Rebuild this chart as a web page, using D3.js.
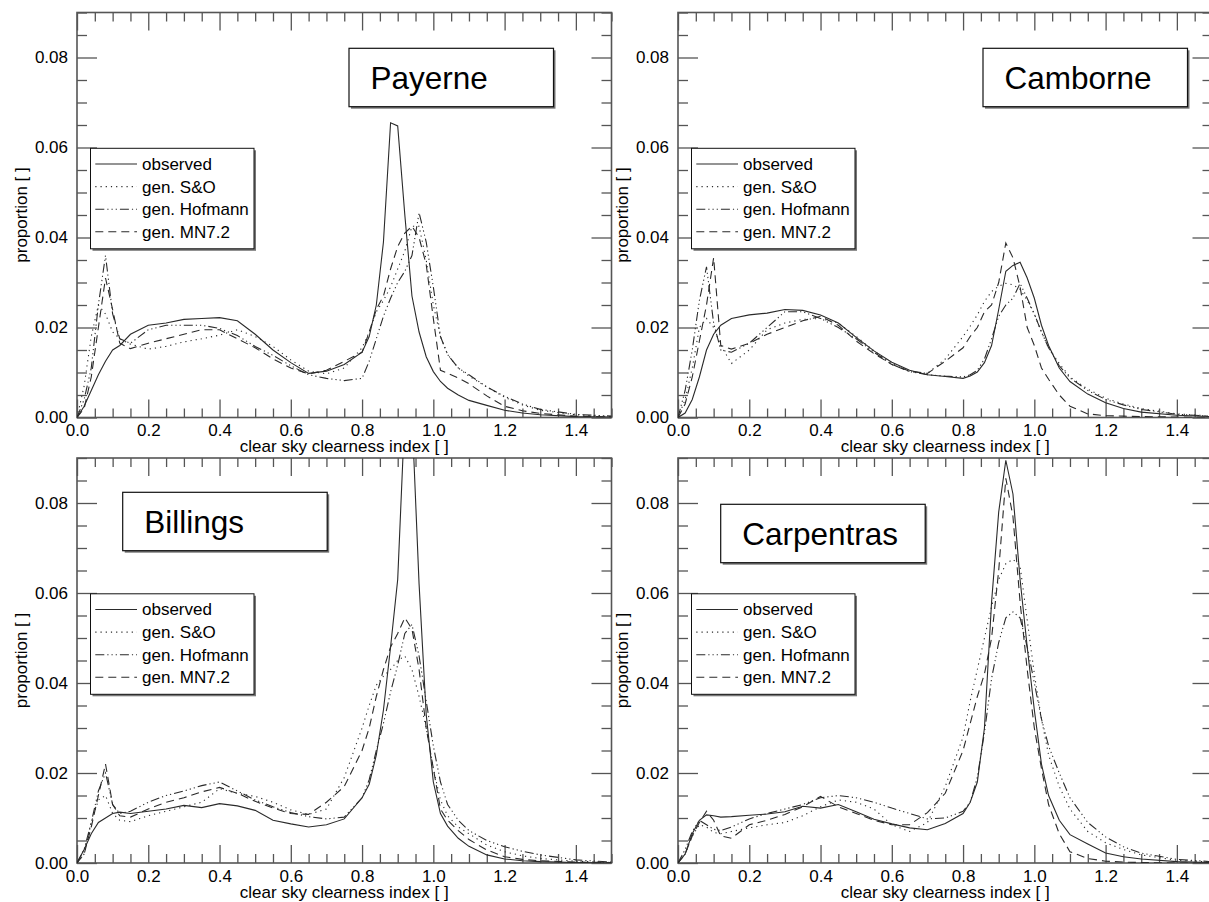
<!DOCTYPE html>
<html>
<head>
<meta charset="utf-8">
<script src="https://cdn.jsdelivr.net/npm/d3@7"></script>
<style>
body { margin: 0; background: #fff; }
text { font-family: "Liberation Sans", Arial, Helvetica, sans-serif; fill: #000; }
.frame { fill: none; stroke: #555; stroke-width: 1.6; }
.tick line { stroke: #555; stroke-width: 1.3; }
.domain { display: none; }
.curve { fill: none; stroke: #2a2a2a; stroke-width: 1.1; }
</style>
</head>
<body>
<script>
//hardcoded parameters
var svg_width = 1209;
var svg_height = 902;
var graph_width = 534.5;
var graph_height = 405;

//clearness index bins
var kt = [0, 0.02, 0.04, 0.06, 0.08, 0.1, 0.12, 0.15, 0.2, 0.25, 0.3, 0.35, 0.4, 0.45, 0.5, 0.55, 0.6, 0.65, 0.7, 0.75,
          0.8, 0.82, 0.84, 0.86, 0.88, 0.9, 0.92, 0.94, 0.96, 0.98, 1.0, 1.02, 1.04, 1.07, 1.1, 1.15, 1.2, 1.25, 1.3, 1.4, 1.5];
var x_ticks = [0, 0.2, 0.4, 0.6, 0.8, 1.0, 1.2, 1.4];
var y_ticks = [0, 0.02, 0.04, 0.06, 0.08];
var series_names = ['observed', 'gen. S&O', 'gen. Hofmann', 'gen. MN7.2'];

//Payerne
var payerne_obs = [0, .0025, .006, .0095, .0125, .015, .016, .0185, .0205, .021, .0218, .022, .0222, .0215, .0185, .015, .0122, .0098, .0103, .0118,
                   .0145, .018, .025, .039, .0655, .0648, .045, .027, .019, .0135, .0102, .008, .0065, .005, .0038, .0027, .0016, .001, .0006, .0002, .0001];
var payerne_so  = [0, .007, .018, .025, .023, .019, .0175, .0163, .0152, .0158, .0168, .0175, .0183, .0195, .018, .0158, .0128, .0103, .0097, .011,
                   .0155, .019, .0235, .026, .029, .033, .037, .0425, .0425, .035, .025, .018, .014, .011, .0092, .0068, .0045, .0028, .0016, .0006, .0002];
var payerne_hof = [0, .004, .011, .025, .036, .023, .0175, .0165, .0195, .0205, .0205, .0205, .0198, .0182, .0158, .0138, .0115, .0095, .0087, .0082,
                   .0087, .0125, .0175, .0225, .0265, .03, .0325, .036, .0455, .039, .029, .018, .014, .011, .0095, .0068, .0047, .003, .0018, .0007, .0003];
var payerne_mn  = [0, .002, .009, .02, .031, .024, .0165, .0153, .0165, .0175, .0185, .0195, .0195, .0175, .0155, .013, .011, .0097, .0105, .0125,
                   .0145, .019, .024, .027, .033, .038, .041, .0425, .04, .034, .022, .0105, .0098, .0088, .0075, .0048, .0025, .0015, .0009, .0003, .0001];

//Camborne
var camborne_obs = [0, .001, .004, .009, .015, .0185, .0205, .022, .0228, .0232, .024, .0238, .0228, .021, .0178, .0148, .0123, .0105, .0095, .0091,
                    .0087, .0092, .0101, .0122, .016, .024, .0325, .0338, .0345, .031, .0265, .0205, .016, .011, .008, .0052, .0033, .002, .0012, .0005, .0002];
var camborne_so  = [0, .004, .011, .02, .022, .02, .016, .012, .015, .0195, .021, .0218, .022, .021, .018, .0148, .012, .0102, .0098, .013,
                    .018, .0203, .0228, .0258, .028, .0292, .0298, .0295, .0285, .026, .023, .019, .0155, .012, .009, .0063, .0043, .003, .002, .0008, .0003];
var camborne_hof = [0, .006, .015, .026, .0335, .021, .015, .0145, .0165, .02, .0235, .0235, .022, .02, .0175, .0145, .0118, .0102, .0095, .0092,
                    .009, .0095, .0105, .013, .0175, .0225, .025, .0265, .0298, .0265, .023, .019, .0155, .0115, .0088, .006, .004, .0028, .0018, .0007, .0003];
var camborne_mn  = [0, .003, .009, .017, .025, .0355, .016, .0152, .0165, .0185, .02, .0215, .0225, .0205, .017, .0142, .0118, .0103, .0098, .0125,
                    .0155, .018, .02, .0235, .025, .03, .0388, .0355, .029, .02, .016, .011, .0085, .005, .0025, .0008, .0004, .0003, .0002, .0001, 0];

//Billings
var billings_obs = [0, .003, .0065, .009, .01, .011, .0113, .011, .0115, .012, .0128, .0123, .0132, .0127, .0117, .0095, .0087, .008, .0085, .0098,
                    .0145, .0175, .024, .034, .048, .063, .1, .1, .062, .033, .018, .011, .0082, .0055, .0037, .0018, .0009, .0005, .0003, .0001, 0];
var billings_so  = [0, .002, .009, .014, .015, .011, .0095, .0092, .0105, .0115, .0125, .0135, .0165, .0155, .0148, .0135, .0118, .0108, .012, .019,
                    .03, .035, .0395, .0415, .043, .045, .046, .043, .037, .03, .021, .014, .0105, .008, .0065, .004, .0025, .0016, .001, .0004, .0001];
var billings_hof = [0, .003, .009, .016, .02, .013, .011, .0115, .0135, .015, .016, .0172, .018, .016, .014, .0125, .0112, .0103, .0098, .0102,
                    .0145, .0185, .025, .031, .038, .044, .051, .053, .046, .036, .026, .018, .013, .0095, .0072, .005, .0036, .0026, .0018, .0007, .0002];
var billings_mn  = [0, .002, .008, .015, .022, .013, .0105, .0102, .012, .0135, .0145, .0158, .0168, .0155, .0137, .0122, .011, .0108, .0135, .017,
                    .025, .03, .037, .043, .048, .051, .0545, .052, .043, .03, .021, .012, .0095, .0072, .0052, .0029, .0014, .0008, .0005, .0002, .0001];

//Carpentras
var carpentras_obs = [0, .002, .0065, .0095, .0107, .0105, .0102, .0103, .0106, .0109, .0114, .0126, .0122, .013, .0114, .0097, .0087, .0078, .0074, .0088,
                      .011, .0135, .018, .03, .058, .078, .0895, .082, .063, .048, .034, .022, .015, .0095, .0063, .0042, .0022, .0014, .0009, .0003, .0001];
var carpentras_so  = [0, .002, .006, .0085, .008, .0068, .0065, .007, .0078, .0085, .009, .0105, .0125, .014, .0135, .012, .0085, .007, .009, .017,
                      .028, .036, .043, .05, .057, .063, .0665, .0675, .066, .054, .042, .032, .024, .017, .012, .007, .0045, .003, .0018, .0006, .0002];
var carpentras_hof = [0, .003, .007, .0095, .0085, .0075, .0072, .008, .0098, .011, .012, .013, .0145, .015, .0145, .0135, .0122, .011, .0098, .01,
                      .0115, .0135, .019, .029, .041, .049, .0545, .0558, .0545, .048, .04, .032, .026, .02, .0145, .009, .0058, .0036, .0022, .0008, .0003];
var carpentras_mn  = [0, .002, .006, .009, .0115, .0095, .006, .0055, .0085, .0095, .0108, .0125, .0148, .0125, .011, .0095, .0085, .0085, .0112, .0155,
                      .025, .031, .037, .042, .05, .065, .0855, .077, .058, .043, .03, .021, .013, .0065, .0025, .001, .0004, .0002, .0001, 0, 0];

//panel layout: origin of each graph and offset of its station box
var panels = [
    {name: 'Payerne',    x: 77,  y: 12.5, box: [272, 35.8],  series: [payerne_obs, payerne_so, payerne_hof, payerne_mn]},
    {name: 'Camborne',   x: 678, y: 12.5, box: [305, 35.8],  series: [camborne_obs, camborne_so, camborne_hof, camborne_mn]},
    {name: 'Billings',   x: 77,  y: 458,  box: [45.7, 34.3], series: [billings_obs, billings_so, billings_hof, billings_mn]},
    {name: 'Carpentras', x: 678, y: 458,  box: [42.7, 46.3], series: [carpentras_obs, carpentras_so, carpentras_hof, carpentras_mn]}
];
var dashes = ['none', '1.2,4', '9,3,1.2,3,1.2,3,1.2,3', '8,5'];

//svg
var svg = d3.select('body').append('svg')
    .attr('width', svg_width)
    .attr('height', svg_height);

//scales (shared)
var scale_x = d3.scaleLinear().domain([0, 1.5]).range([0, graph_width]);
var scale_y = d3.scaleLinear().domain([0, 0.09]).range([graph_height, 0]);
var x_minor = d3.range(0, 1.5001, 0.05).filter(function(v) { return Math.abs(v*5 - Math.round(v*5)) > 1e-6; });
var y_minor = d3.range(0, 0.0901, 0.005).filter(function(v) { return Math.abs(v*50 - Math.round(v*50)) > 1e-6; });

var line = d3.line()
    .x(function(d, i) { return scale_x(kt[i]); })
    .y(function(d) { return scale_y(d); });

panels.forEach(function(p, k) {
    var graph = svg.append('g').attr('transform', 'translate('+p.x+','+p.y+')');

    //clip
    graph.append('clipPath').attr('id', 'clip'+k)
        .append('rect').attr('width', graph_width).attr('height', graph_height);

    //axes, ticks pointing inward on all four sides
    function axis(gen, values, size, dx, dy, labels) {
        var g = graph.append('g')
            .attr('transform', 'translate('+dx+','+dy+')')
            .call(gen.tickValues(values).tickSize(-size).tickSizeOuter(0)
                .tickFormat(labels || ''));
        g.attr('font-size', 17).attr('font-family', null);
        return g;
    }
    axis(d3.axisBottom(scale_x).tickPadding(6.5), x_ticks, 18, 0, graph_height, d3.format('.1f'));
    axis(d3.axisBottom(scale_x), x_minor, 9, 0, graph_height);
    axis(d3.axisTop(scale_x), x_ticks, 18, 0, 0);
    axis(d3.axisTop(scale_x), x_minor, 9, 0, 0);
    axis(d3.axisLeft(scale_y).tickPadding(9), y_ticks, 20, 0, 0, d3.format('.2f'));
    axis(d3.axisLeft(scale_y), y_minor, 10, 0, 0);
    axis(d3.axisRight(scale_y), y_ticks, 20, graph_width, 0);
    axis(d3.axisRight(scale_y), y_minor, 10, graph_width, 0);

    graph.append('rect').classed('frame', true)
        .attr('width', graph_width).attr('height', graph_height);

    //axis titles
    graph.append('text')
        .attr('text-anchor', 'middle')
        .attr('font-size', 17)
        .attr('x', graph_width/2)
        .attr('y', graph_height + 34.5)
        .text('clear sky clearness index [ ]');
    graph.append('text')
        .attr('text-anchor', 'middle')
        .attr('font-size', 17)
        .attr('transform', 'translate(-50,'+(graph_height/2)+') rotate(-90)')
        .text('proportion [ ]');

    //curves
    graph.append('g').attr('clip-path', 'url(#clip'+k+')')
        .selectAll('path').data(p.series).enter().append('path')
        .classed('curve', true)
        .attr('stroke-dasharray', function(d, i) { return dashes[i]; })
        .attr('d', line);

    //legend
    var key = graph.append('g').attr('transform', 'translate(13.5,135.8)');
    key.append('rect').attr('x', 2).attr('y', 2).attr('width', 163.5).attr('height', 100.5).attr('fill', '#777');
    key.append('rect').attr('width', 163.5).attr('height', 100.5)
        .attr('fill', '#fff').attr('stroke', '#111').attr('stroke-width', 1);
    series_names.forEach(function(s, i) {
        var yb = 21.7 + i*22.6;
        key.append('line').classed('curve', true)
            .attr('x1', 4.8).attr('x2', 46.5).attr('y1', yb - 6).attr('y2', yb - 6)
            .attr('stroke-dasharray', dashes[i]);
        key.append('text').attr('font-size', 17).attr('x', 51.5).attr('y', yb).text(s);
    });

    //station box
    var box = graph.append('g').attr('transform', 'translate('+p.box[0]+','+p.box[1]+')');
    box.append('rect').attr('x', 2).attr('y', 2).attr('width', 204.5).attr('height', 58.4).attr('fill', '#777');
    box.append('rect').attr('width', 204.5).attr('height', 58.4)
        .attr('fill', '#fff').attr('stroke', '#111').attr('stroke-width', 1.2);
    box.append('text').attr('font-size', 31.5).attr('x', 21.5).attr('y', 40.8).text(p.name);
});
</script>
</body>
</html>
